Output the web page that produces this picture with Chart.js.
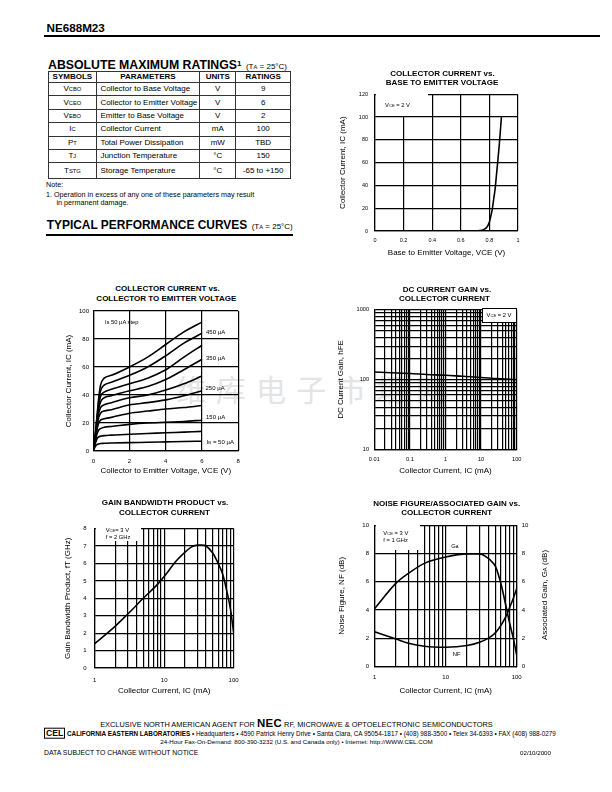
<!DOCTYPE html>
<html>
<head>
<meta charset="utf-8">
<title>NE688M23</title>
<script src="https://cdn.jsdelivr.net/npm/chart.js@4.4.1/dist/chart.umd.min.js"></script>
<style>
  body { margin: 0; background: #fff; }
  #page { position: relative; width: 612px; height: 792px; overflow: hidden; background: #fff;
          font-family: "Liberation Sans", Arial, Helvetica, sans-serif; color: #000; }
  .t, .c, .r { position: absolute; white-space: nowrap; line-height: 1; z-index: 3; }
  .t { transform: translateY(-50%); }
  .c { transform: translate(-50%, -50%); }
  .r { transform: translate(-100%, -50%); }
  .s { font-size: 72%; }
  .b { font-weight: bold; }
  .box { position: absolute; background: #fff; z-index: 2; box-sizing: border-box; }
  .chart { position: absolute; z-index: 1; }
  .rule { position: absolute; background: #000; }
  .ct { font-weight: bold; font-size: 8px; }
  .note { font-size: 5.8px; }
  .lbl { font-size: 6px; }
  table { position: absolute; left: 48px; top: 70.5px; width: 242px; border-collapse: collapse;
          table-layout: fixed; font-size: 8px; z-index: 3; }
  th, td { border: 1px solid #333; padding: 0; text-align: center; white-space: nowrap; line-height: 1; }
  th { font-weight: bold; height: 10.6px; }
  td { height: 12.4px; }
  td.p { text-align: left; padding-left: 3.7px; }
  tr.last td { height: 14.4px; }
  .nec { font-weight: bold; font-size: 1.55em; letter-spacing: 0.03em; }
  .cel { display: inline-block; border: 1px solid #000; font-weight: bold; font-size: 1.35em; padding: 0 1px; }
  #wm { position: absolute; left: 176px; top: 388px; transform: translateY(-50%); z-index: 0;
        font-family: "Noto Sans CJK SC", sans-serif; font-size: 30px; letter-spacing: 10px;
        color: #e4e4e4; white-space: nowrap; line-height: 1; }
</style>
</head>
<body>
<div id="page">
  <div id="wm">维库电子市场网</div>

  <!-- header -->
  <div class="t b" id="hdr" style="left:46.5px;top:27.7px;font-size:11.7px">NE688M23</div>
  <div class="rule" style="left:44px;top:35px;width:556px;height:2px"></div>

  <div class="t" style="left:48px;top:63.8px"><span id="h1" class="b" style="font-size:12.2px">ABSOLUTE MAXIMUM RATINGS</span><span class="b" style="font-size:8px;position:relative;top:-3px">1</span> <span style="font-size:8px">(T<span class="s">A</span> = 25°C)</span></div>

  <table>
    <colgroup><col style="width:47.7px"><col style="width:103.6px"><col style="width:36px"><col style="width:54.7px"></colgroup>
    <tr><th>SYMBOLS</th><th>PARAMETERS</th><th>UNITS</th><th>RATINGS</th></tr>
    <tr><td>V<span class="s">CBO</span></td><td class="p">Collector to Base Voltage</td><td>V</td><td>9</td></tr>
    <tr><td>V<span class="s">CEO</span></td><td class="p">Collector to Emitter Voltage</td><td>V</td><td>6</td></tr>
    <tr><td>V<span class="s">EBO</span></td><td class="p">Emitter to Base Voltage</td><td>V</td><td>2</td></tr>
    <tr><td>I<span class="s">C</span></td><td class="p">Collector Current</td><td>mA</td><td>100</td></tr>
    <tr><td>P<span class="s">T</span></td><td class="p">Total Power Dissipation</td><td>mW</td><td>TBD</td></tr>
    <tr><td>T<span class="s">J</span></td><td class="p">Junction Temperature</td><td>°C</td><td>150</td></tr>
    <tr class="last"><td>T<span class="s">STG</span></td><td class="p">Storage Temperature</td><td>°C</td><td>-65 to +150</td></tr>
  </table>

  <div class="t" style="left:46px;top:184.7px;font-size:7.2px">Note:</div>
  <div class="t" style="left:46px;top:194.7px;font-size:7.2px">1. Operation in excess of any one of these parameters may result</div>
  <div class="t" style="left:56.5px;top:203.3px;font-size:7.2px">in permanent damage.</div>

  <div class="t" style="left:46.7px;top:224.3px"><span id="h2" class="b" style="font-size:12px">TYPICAL PERFORMANCE CURVES</span> <span style="font-size:8px">(T<span class="s">A</span> = 25°C)</span></div>
  <div class="rule" style="left:46px;top:234.2px;width:247px;height:1.6px"></div>

  <!-- chart titles -->
  <div class="c ct" style="left:442.5px;top:74px">COLLECTOR CURRENT vs.</div>
  <div class="c ct" style="left:442px;top:83.3px">BASE TO EMITTER VOLTAGE</div>
  <div class="c ct" style="left:167.5px;top:289.3px">COLLECTOR CURRENT vs.</div>
  <div class="c ct" style="left:166.3px;top:299px">COLLECTOR TO EMITTER VOLTAGE</div>
  <div class="c ct" style="left:447px;top:290px">DC CURRENT GAIN vs.</div>
  <div class="c ct" style="left:444.5px;top:299px">COLLECTOR CURRENT</div>
  <div class="c ct" style="left:165px;top:503.3px">GAIN BANDWIDTH PRODUCT vs.</div>
  <div class="c ct" style="left:164.5px;top:513.3px">COLLECTOR CURRENT</div>
  <div class="c ct" style="left:446.7px;top:504.3px">NOISE FIGURE/ASSOCIATED GAIN vs.</div>
  <div class="c ct" style="left:446.7px;top:512.9px">COLLECTOR CURRENT</div>

  <!-- charts -->
  <div class="chart" style="left:330px;top:84px;width:198px;height:177px"><canvas id="beChart"></canvas></div>
  <div class="chart" style="left:58px;top:303px;width:189px;height:173px"><canvas id="outChart"></canvas></div>
  <div class="chart" style="left:333px;top:301px;width:195px;height:175px"><canvas id="gainChart"></canvas></div>
  <div class="chart" style="left:58px;top:517px;width:189px;height:180px"><canvas id="ftChart"></canvas></div>
  <div class="chart" style="left:334px;top:516px;width:222px;height:181px"><canvas id="nfChart"></canvas></div>

  <!-- in-plot notes -->
  <div class="box" style="left:376px;top:92px;width:52px;height:24px"></div>
  <div class="t note" style="left:385px;top:105.7px">V<span class="s">CE</span> = 2 V</div>

  <div class="t note" style="left:105px;top:322.7px">I<span class="s">B</span> 50 µA step</div>
  <div class="t lbl" style="left:206px;top:331.7px">450 µA</div>
  <div class="t lbl" style="left:206px;top:357.7px">350 µA</div>
  <div class="t lbl" style="left:205.5px;top:388.3px">250 µA</div>
  <div class="t lbl" style="left:206px;top:417.3px">150 µA</div>
  <div class="t lbl" style="left:206.7px;top:442.3px">I<span class="s">B</span> = 50 µA</div>

  <div class="box" style="left:481.7px;top:308.3px;width:35px;height:15px;border:1px solid #000"></div>
  <div class="c note" style="left:499px;top:316.2px">V<span class="s">CE</span> = 2 V</div>

  <div class="box" style="left:95.5px;top:524.6px;width:45px;height:16.4px"></div>
  <div class="t note" style="left:105.7px;top:531px">V<span class="s">CE</span>= 3 V</div>
  <div class="t note" style="left:105.7px;top:537.7px">f = 2 GHz</div>

  <div class="box" style="left:375.5px;top:523.6px;width:44.5px;height:26.8px"></div>
  <div class="t note" style="left:383.3px;top:533.7px">V<span class="s">CE</span> = 3 V</div>
  <div class="t note" style="left:383.3px;top:540.7px">f = 1 GHz</div>
  <div class="c note" style="left:455px;top:547px">G<span class="s">A</span></div>
  <div class="c note" style="left:456.7px;top:655px">NF</div>
  <div class="c" style="left:545px;top:594.7px;font-size:8px;transform:translate(-50%,-50%) rotate(-90deg)">Associated Gain, G<span class="s">A</span> (dB)</div>

  <!-- footer -->
  <div class="c" id="f1" style="left:296.5px;top:723.7px;font-size:7px">EXCLUSIVE NORTH AMERICAN AGENT FOR <span class="nec">NEC</span> RF, MICROWAVE &amp; OPTOELECTRONIC SEMICONDUCTORS</div>
  <div class="t" id="f2" style="left:44px;top:733px;font-size:6px"><span class="cel">CEL</span> <b>CALIFORNIA EASTERN LABORATORIES</b> • Headquarters • 4590 Patrick Henry Drive • Santa Clara, CA 95054-1817 • (408) 988-3500 • Telex 34-6393 • FAX (408) 988-0279</div>
  <div class="c" id="f3" style="left:296.5px;top:742px;font-size:5.8px">24-Hour Fax-On-Demand: 800-390-3232 (U.S. and Canada only) • Internet: http://WWW.CEL.COM</div>
  <div class="t" id="f4" style="left:44px;top:752.7px;font-size:5.8px">DATA SUBJECT TO CHANGE WITHOUT NOTICE</div>
  <div class="r" id="f5" style="left:551px;top:752.7px;font-size:5.8px">02/10/2000</div>
</div>

<script>
Chart.defaults.font.family = "'Liberation Sans', Arial, Helvetica, sans-serif";
Chart.defaults.color = '#000';

// ===== collector current vs base-emitter voltage (VCE = 2 V) =====
const beVolts = [0.70, 0.73, 0.76, 0.78, 0.79, 0.80, 0.81, 0.82, 0.83, 0.84, 0.85, 0.86, 0.87, 0.884];
const beCurrent = [0, 0.3, 1.2, 3, 5, 8, 13, 19, 28, 37, 50, 63, 77, 100];
const beTicksX = [0, 0.2, 0.4, 0.6, 0.8, 1];
const beTicksY = [0, 20, 40, 60, 80, 100, 120];

// ===== output curves, IB = 50 ... 500 uA =====
const vceVolts = [0, 0.1, 0.2, 0.3, 0.4, 0.6, 1, 2, 3, 4, 5, 6];
const ib500 = [0, 10, 24, 38, 47, 52, 54, 60, 67, 76, 85, 92];
const ib450 = [0, 10, 23, 35, 43, 47, 49, 54, 60, 68, 77, 84];
const ib400 = [0, 9, 21, 32, 39, 42, 44, 48, 52, 58, 67, 75.5];
const ib350 = [0, 9, 20, 30, 35, 38, 39.5, 43, 46, 51, 58, 65.5];
const ib300 = [0, 8, 19, 27, 31, 33, 34.5, 38, 40, 43.5, 48, 53.5];
const ib250 = [0, 8, 17, 24, 27, 28.5, 29.5, 33, 34.5, 36.5, 39.5, 43];
const ib200 = [0, 7, 15, 20, 22, 23, 24, 27, 28.5, 30, 31, 32.5];
const ib150 = [0, 6, 12, 15, 16, 17, 17.5, 19, 20, 20.5, 21, 22];
const ib100 = [0, 5, 8.5, 10, 10.5, 11, 11.3, 12, 12.5, 13, 13.5, 14];
const ib50 = [0, 3, 4.5, 5, 5.3, 5.5, 5.7, 6, 6.2, 6.5, 6.8, 7];
const outTicksX = [0, 2, 4, 6, 8];
const outTicksY = [0, 20, 40, 60, 80, 100];

// ===== DC current gain (VCE = 2 V) =====
const gainIc = [0.01, 0.03, 0.1, 0.3, 1, 3, 10, 30, 100];
const gainHfe = [128, 125, 122, 118, 115, 111, 107, 103, 100];
const gainLabelsX = [0.01, 0.1, 1, 10, 100];
const gainLabelsY = [10, 100, 1000];

// ===== gain bandwidth product (VCE = 3 V, f = 2 GHz) =====
const ftIc = [1, 2, 3, 5, 8, 10, 15, 20, 25, 30, 35, 40, 50, 60, 70, 80, 90, 100];
const ftGHz = [1.4, 2.42, 3.1, 4.0, 4.8, 5.25, 6.15, 6.65, 6.95, 7.05, 7.05, 7.0, 6.6, 6.0, 5.35, 4.4, 3.4, 2.05];
const ftTicksY = [0, 1, 2, 3, 4, 5, 6, 7, 8];

// ===== noise figure / associated gain (VCE = 3 V, f = 1 GHz) =====
const nfIc = [1, 2, 3, 5, 10, 20, 30, 40, 45, 50, 60, 70, 80, 90, 100];
const nfDb = [2.45, 1.93, 1.63, 1.42, 1.35, 1.47, 1.7, 2.0, 2.18, 2.37, 2.9, 3.5, 4.2, 4.85, 5.5];
const gaDb = [4.1, 5.9, 6.6, 7.3, 7.75, 7.97, 7.97, 7.65, 7.4, 7.1, 5.85, 4.35, 3.0, 1.95, 0.8];
const nfTicksY = [0, 2, 4, 6, 8, 10];
const currentLabels = [1, 10, 100];

// grid lines at 1..9 of every decade
function logGrid(from, to) {
    const vals = [];
    for (let d = from; d < to; d = Number((d * 10).toPrecision(3))) {
        for (let m = 1; m < 10; m++) vals.push(Number((m * d).toPrecision(3)));
    }
    vals.push(to);
    return vals;
}

function curve(xs, ys, axisId) {
    return {
        data: xs.map((x, i) => ({ x: x, y: ys[i] })),
        yAxisID: axisId || 'y',
        borderColor: '#000',
        borderWidth: 1.6,
        pointRadius: 0,
        fill: false,
        cubicInterpolationMode: 'monotone'
    };
}

// one axis with a fixed box size, so the plot area lands where the datasheet has it
function axis(o) {
    return {
        type: o.type || 'linear',
        position: o.position,
        min: o.min,
        max: o.max,
        afterBuildTicks: s => { s.ticks = o.grid.map(v => ({ value: v })); },
        afterFit: s => { if (s.isHorizontal()) s.height = o.size; else s.width = o.size; },
        ticks: {
            autoSkip: false, maxRotation: 0, padding: o.tickPad, font: { size: o.tickSize },
            callback: v => (o.labels.includes(v) ? String(v) : '')
        },
        grid: { display: o.showGrid !== false, color: '#000', lineWidth: 1.2, drawTicks: false },
        border: { display: true, color: '#000', width: 1.2 },
        title: {
            display: !!o.title, text: o.title, color: '#000', font: { size: 8 },
            padding: { top: o.titlePad, bottom: o.titlePad }
        }
    };
}

function makeChart(id, datasets, scales, padding) {
    return new Chart(document.getElementById(id), {
        type: 'line',
        data: { datasets: datasets },
        options: {
            responsive: true,
            maintainAspectRatio: false,
            animation: false,
            layout: { padding: padding },
            plugins: { legend: { display: false }, tooltip: { enabled: false } },
            scales: scales
        }
    });
}

makeChart('beChart', [curve(beVolts, beCurrent)], {
    x: axis({ min: 0, max: 1, grid: beTicksX, labels: beTicksX, size: 30, tickPad: 5.7, tickSize: 5.5,
              title: 'Base to Emitter Voltage, VCE (V)', titlePad: 3.2 }),
    y: axis({ min: 0, max: 120, grid: beTicksY, labels: beTicksY, size: 45, tickPad: 7, tickSize: 5.5,
              title: 'Collector Current, IC (mA)', titlePad: 8.2 })
}, { top: 7, right: 10 });

const ibCurves = [ib500, ib450, ib400, ib350, ib300, ib250, ib200, ib150, ib100, ib50];
makeChart('outChart', ibCurves.map(c => curve(vceVolts, c)), {
    x: axis({ min: 0, max: 8, grid: outTicksX, labels: outTicksX, size: 25, tickPad: 7.1, tickSize: 6,
              title: 'Collector to Emitter Voltage, VCE (V)', titlePad: 0.5 }),
    y: axis({ min: 0, max: 100, grid: outTicksY, labels: outTicksY, size: 35.3, tickPad: 4.3, tickSize: 6,
              title: 'Collector Current, IC (mA)', titlePad: 5.5 })
}, { top: 7, right: 8 });

makeChart('gainChart', [curve(gainIc, gainHfe)], {
    x: axis({ type: 'logarithmic', min: 0.01, max: 100, grid: logGrid(0.01, 100), labels: gainLabelsX,
              size: 26.7, tickPad: 6.3, tickSize: 5.6, title: 'Collector Current, IC (mA)', titlePad: 0.5 }),
    y: axis({ type: 'logarithmic', min: 10, max: 1000, grid: logGrid(10, 1000), labels: gainLabelsY,
              size: 41.3, tickPad: 5.3, tickSize: 5.6, title: 'DC Current Gain, hFE', titlePad: 3.2 })
}, { top: 7.3, right: 11.3 });

makeChart('ftChart', [curve(ftIc, ftGHz)], {
    x: axis({ type: 'logarithmic', min: 1, max: 100, grid: logGrid(1, 100), labels: currentLabels,
              size: 29, tickPad: 8.4, tickSize: 6, title: 'Collector Current, IC (mA)', titlePad: 1.2 }),
    y: axis({ min: 0, max: 8, grid: ftTicksY, labels: ftTicksY, size: 36.7, tickPad: 8, tickSize: 6,
              title: 'Gain Bandwidth Product, fT (GHz)', titlePad: 5.2 })
}, { top: 7, right: 10 });

makeChart('nfChart', [curve(nfIc, nfDb, 'y'), curve(nfIc, gaDb, 'y2')], {
    x: axis({ type: 'logarithmic', min: 1, max: 100, grid: logGrid(1, 100), labels: currentLabels,
              size: 30.7, tickPad: 7.8, tickSize: 6, title: 'Collector Current, IC (mA)', titlePad: 1.2 }),
    y: axis({ position: 'left', min: 0, max: 10, grid: nfTicksY, labels: nfTicksY, size: 40.7, tickPad: 5.7,
              tickSize: 6, title: 'Noise Figure, NF (dB)', titlePad: 3.2 }),
    y2: axis({ position: 'right', min: 0, max: 10, grid: nfTicksY, labels: nfTicksY, size: 39.3, tickPad: 5,
               tickSize: 6, showGrid: false })
}, { top: 7, right: 0 });

// scale text runs to the widths measured on the datasheet
function fitWidth(id, target) {
    const el = document.getElementById(id);
    const size = parseFloat(getComputedStyle(el).fontSize);
    const w = el.getBoundingClientRect().width;
    if (w > 0) el.style.fontSize = (size * target / w).toFixed(2) + 'px';
}
fitWidth('hdr', 58.3);
fitWidth('h1', 189);
fitWidth('h2', 200.6);
fitWidth('f1', 393);
fitWidth('f2', 513);
fitWidth('f3', 273);
fitWidth('f4', 154.5);
fitWidth('f5', 31);
</script>
</body>
</html>
